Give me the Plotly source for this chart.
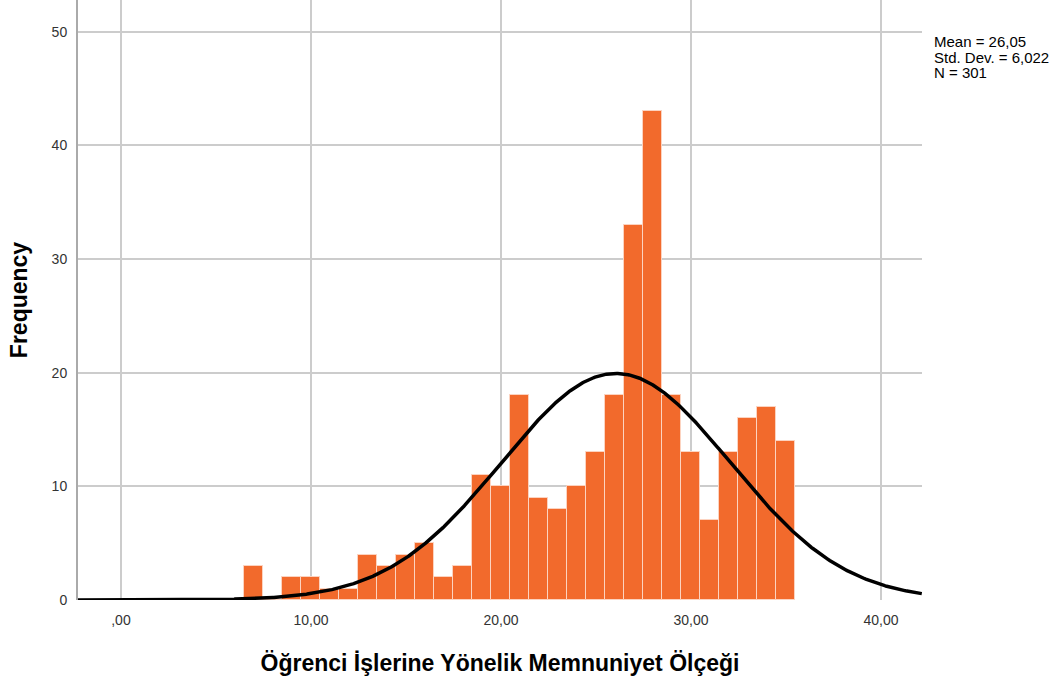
import math
import plotly.graph_objects as go

# bin centres (width 1) and counts
bin_centers = list(range(7, 36))
counts = [3, 0, 2, 2, 1, 1, 4, 3, 4, 5, 2, 3,
          11, 10, 18, 9, 8, 10, 13, 18,
          33, 43, 18, 13, 7, 13, 16, 17, 14]

mean = 26.05
std_dev = 6.022
n_obs = 301
stats_lines = ["Mean = 26,05", "Std. Dev. = 6,022", "N = 301"]

x_tick_vals = [0, 10, 20, 30, 40]
x_tick_text = [",00", "10,00", "20,00", "30,00", "40,00"]
y_tick_vals = [0, 10, 20, 30, 40, 50]

# normal curve scaled to the histogram (bin width 1)
curve_x = [-2.3 + i * 0.05 for i in range(890)]
curve_y = [n_obs / (std_dev * math.sqrt(2 * math.pi)) *
           math.exp(-0.5 * ((v - mean) / std_dev) ** 2) for v in curve_x]

fig = go.Figure()

fig.add_trace(go.Bar(
    x=bin_centers,
    y=counts,
    width=1,
    marker_color='#f26a2c',
    marker_line_color='#fcd3c0',
    marker_line_width=1,
    showlegend=False
))

fig.add_trace(go.Scatter(
    x=curve_x,
    y=curve_y,
    mode='lines',
    line=dict(color='black', width=3.5),
    showlegend=False
))

# stats box, one line per annotation to keep the tight spacing
for i, line in enumerate(stats_lines):
    fig.add_annotation(
        xref='paper', yref='paper', x=1.012, y=0.93,
        yshift=-15.5 * i,
        xanchor='left', yanchor='middle', align='left', showarrow=False,
        text=line,
        font=dict(size=15, color='black', family='Liberation Sans')
    )

fig.update_layout(
    width=1064,
    height=679,
    margin=dict(l=78, r=142, t=0, b=79),
    plot_bgcolor='white',
    paper_bgcolor='white',
    font=dict(family='Liberation Sans', color='#333333', size=14),
    bargap=0
)

fig.update_xaxes(
    range=[-2.26, 42.16],
    tickvals=x_tick_vals,
    ticktext=x_tick_text,
    showgrid=True, gridcolor='#cccccc', gridwidth=1.5,
    zeroline=False, showline=False, ticks='',
    automargin=False, ticklabelstandoff=10,
    tickfont=dict(size=14, color='#333333'),
    title=dict(text="<b>Öğrenci İşlerine Yönelik Memnuniyet Ölçeği</b>",
               font=dict(size=23, color='black'), standoff=27)
)

fig.update_yaxes(
    range=[0, 52.8],
    tickvals=y_tick_vals,
    showgrid=True, gridcolor='#cccccc', gridwidth=1.5,
    zeroline=False, showline=True, linecolor='#aaaaaa', linewidth=2,
    ticks='', ticklabelstandoff=6,
    automargin=False,
    tickfont=dict(size=14, color='#333333'),
    title=dict(text="<b>Frequency</b>", font=dict(size=23, color='black'),
               standoff=18)
)

# page body has a default 8px margin; drop it so the figure sits at 0,0
fig.write_html("out.html", config={'displayModeBar': False},
               post_script="document.body.style.margin='0';")
